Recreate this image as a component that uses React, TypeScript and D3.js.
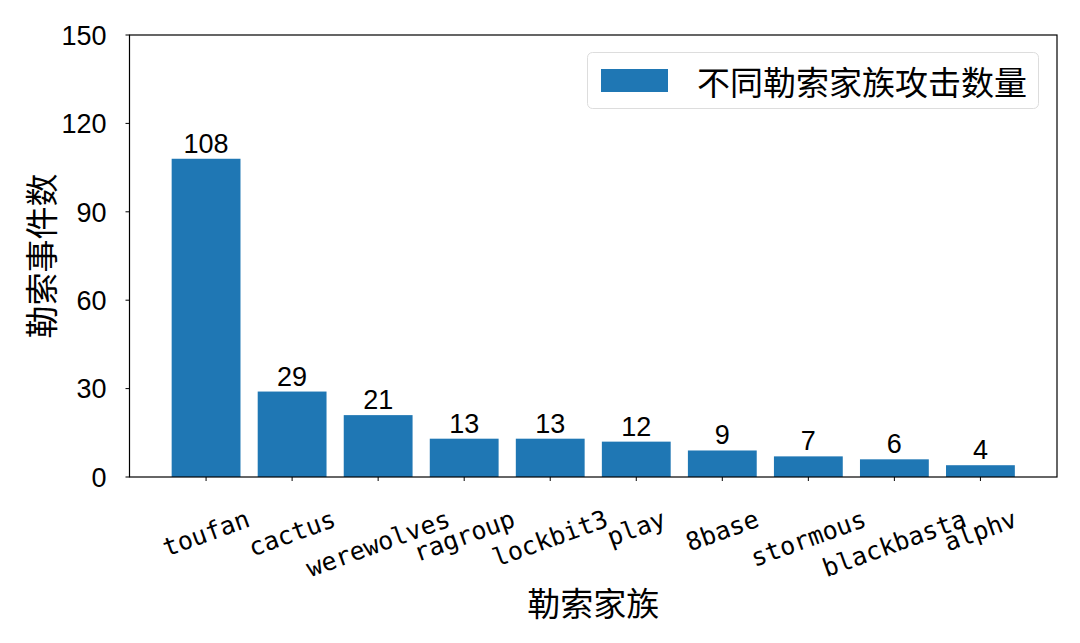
import React from "react";
import * as d3 from "d3";

const categories = ["toufan", "cactus", "werewolves", "ragroup", "lockbit3", "play", "8base", "stormous", "blackbasta", "alphv"];
const values = [108, 29, 21, 13, 13, 12, 9, 7, 6, 4];
const yTicks = [0, 30, 60, 90, 120, 150];
const legendLabel = "不同勒索家族攻击数量";
const xTitle = "勒索家族";
const yTitle = "勒索事件数";

const W = 1080, H = 643;
const L = 129.5, R = 1057, T = 35, B = 477;
const CJK = "'Noto Sans CJK SC', sans-serif";
const NUM = "'Liberation Sans', Arial, sans-serif";
const MONO = "'DejaVu Sans Mono', 'Liberation Mono', monospace";

export default function App() {
  const x = d3.scaleBand<string>().domain(categories).range([L, R]).paddingInner(0.2).paddingOuter(0.49);
  const y = d3.scaleLinear().domain([0, 150]).range([B, T]);
  const fsX = 25;
  const ang = 20 * Math.PI / 180;
  const labelTop = 505;
  return (
    <svg width={W} height={H} style={{ position: "absolute", left: 0, top: 0, background: "#fff" }}>
      <rect x={0} y={0} width={W} height={H} fill="#fff" />
      {categories.map((c, i) => (
        <rect key={c} x={x(c)} y={y(values[i])} width={x.bandwidth()} height={B - y(values[i])} fill="#1f77b4" />
      ))}
      {categories.map((c, i) => (
        <text key={c + "v"} x={(x(c) as number) + x.bandwidth() / 2} y={y(values[i]) - 6} textAnchor="middle"
          fontFamily={NUM} fontSize={27} fill="#000">{values[i]}</text>
      ))}
      <rect x={L} y={T} width={R - L} height={B - T} fill="none" stroke="#000" strokeWidth={1.2} />
      {yTicks.map(t => (
        <g key={t}>
          <line x1={L - 4} x2={L} y1={y(t)} y2={y(t)} stroke="#000" strokeWidth={1} />
          <text x={L - 23} y={y(t)} dy="0.36em" textAnchor="end" fontFamily={NUM} fontSize={27} fill="#000">{t}</text>
        </g>
      ))}
      {categories.map(c => {
        const cx = (x(c) as number) + x.bandwidth() / 2;
        const w = c.length * 0.6 * fsX;
        const h = fsX * 1.1;
        const bh = w * Math.sin(ang) + h * Math.cos(ang);
        const cy = labelTop + bh / 2;
        return (
          <g key={c + "t"}>
            <line x1={cx} x2={cx} y1={B} y2={B + 4} stroke="#000" strokeWidth={1} />
            <text transform={`translate(${cx},${cy}) rotate(-20)`} textAnchor="middle" dominantBaseline="central"
              fontFamily={MONO} fontSize={fsX} fill="#000">{c}</text>
          </g>
        );
      })}
      <text x={(L + R) / 2} y={602} dominantBaseline="central" textAnchor="middle" fontFamily={CJK} fontSize={33} fill="#000">{xTitle}</text>
      <text transform={`translate(40,${(T + B) / 2}) rotate(-90)`} dominantBaseline="central" textAnchor="middle" fontFamily={CJK} fontSize={33} fill="#000">{yTitle}</text>
      <rect x={587.5} y={52.5} width={451} height={56} rx={5} fill="#fff" stroke="#ddd" strokeWidth={1} />
      <rect x={601} y={69} width={67} height={23} fill="#1f77b4" />
      <text x={697} y={80.5} dominantBaseline="central" fontFamily={CJK} fontSize={33} fill="#000">{legendLabel}</text>
    </svg>
  );
}
